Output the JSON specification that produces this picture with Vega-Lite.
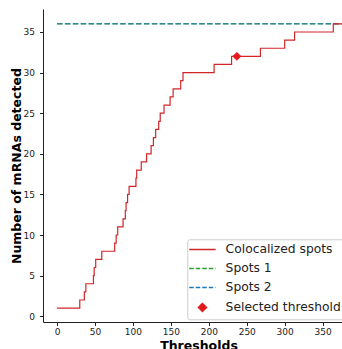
{
  "$schema": "https://vega.github.io/schema/vega-lite/v6.json",
  "width": 299,
  "height": 313,
  "autosize": {"type": "none"},
  "padding": {"left": 43, "top": 9, "right": 0, "bottom": 27},
  "config": {
    "view": {"stroke": null},
    "font": "DejaVu Sans",
    "axis": {
      "labelFont": "DejaVu Sans",
      "labelFontSize": 9,
      "labelColor": "#222222",
      "tickColor": "#222222",
      "tickSize": 3.5,
      "tickWidth": 1,
      "domainColor": "#222222",
      "domainWidth": 1,
      "grid": false,
      "titleFont": "DejaVu Sans",
      "titleFontWeight": "bold",
      "titleFontSize": 12.5,
      "titleColor": "#000000"
    }
  },
  "datasets": {
    "curve": [
      {"series": "Colocalized spots", "threshold": 0, "count": 1},
      {"series": "Colocalized spots", "threshold": 30, "count": 2},
      {"series": "Colocalized spots", "threshold": 36, "count": 3},
      {"series": "Colocalized spots", "threshold": 38, "count": 4},
      {"series": "Colocalized spots", "threshold": 48, "count": 5},
      {"series": "Colocalized spots", "threshold": 49, "count": 6},
      {"series": "Colocalized spots", "threshold": 51, "count": 7},
      {"series": "Colocalized spots", "threshold": 59, "count": 8},
      {"series": "Colocalized spots", "threshold": 76, "count": 9},
      {"series": "Colocalized spots", "threshold": 78, "count": 10},
      {"series": "Colocalized spots", "threshold": 80, "count": 11},
      {"series": "Colocalized spots", "threshold": 87, "count": 12},
      {"series": "Colocalized spots", "threshold": 90, "count": 13},
      {"series": "Colocalized spots", "threshold": 91, "count": 14},
      {"series": "Colocalized spots", "threshold": 93, "count": 15},
      {"series": "Colocalized spots", "threshold": 95, "count": 16},
      {"series": "Colocalized spots", "threshold": 104, "count": 17},
      {"series": "Colocalized spots", "threshold": 105, "count": 18},
      {"series": "Colocalized spots", "threshold": 111, "count": 19},
      {"series": "Colocalized spots", "threshold": 118, "count": 20},
      {"series": "Colocalized spots", "threshold": 124, "count": 21},
      {"series": "Colocalized spots", "threshold": 127, "count": 22},
      {"series": "Colocalized spots", "threshold": 130, "count": 23},
      {"series": "Colocalized spots", "threshold": 134, "count": 24},
      {"series": "Colocalized spots", "threshold": 136, "count": 25},
      {"series": "Colocalized spots", "threshold": 141, "count": 26},
      {"series": "Colocalized spots", "threshold": 149, "count": 27},
      {"series": "Colocalized spots", "threshold": 153, "count": 28},
      {"series": "Colocalized spots", "threshold": 163, "count": 29},
      {"series": "Colocalized spots", "threshold": 166, "count": 30},
      {"series": "Colocalized spots", "threshold": 207, "count": 31},
      {"series": "Colocalized spots", "threshold": 230, "count": 32},
      {"series": "Colocalized spots", "threshold": 268, "count": 33},
      {"series": "Colocalized spots", "threshold": 300, "count": 34},
      {"series": "Colocalized spots", "threshold": 313, "count": 35},
      {"series": "Colocalized spots", "threshold": 364, "count": 36},
      {"series": "Colocalized spots", "threshold": 376, "count": 36}
    ],
    "spots": [
      {"series": "Spots 1", "threshold": 0, "count": 36},
      {"series": "Spots 1", "threshold": 376, "count": 36},
      {"series": "Spots 2", "threshold": 0, "count": 36},
      {"series": "Spots 2", "threshold": 376, "count": 36}
    ],
    "selected": [
      {"series": "Selected threshold", "threshold": 237, "count": 32}
    ]
  },
  "encoding": {
    "x": {
      "field": "threshold",
      "type": "quantitative",
      "scale": {"domain": [-18.45, 375.5], "nice": false, "zero": false},
      "axis": {
        "title": "Thresholds",
        "values": [0, 50, 100, 150, 200, 250, 300, 350],
        "labelPadding": 2,
        "labelFlush": false,
        "labelOverlap": false,
        "titleX": 155.5,
        "titleY": 27,
        "titleAlign": "center",
        "titleBaseline": "alphabetic"
      }
    },
    "y": {
      "field": "count",
      "type": "quantitative",
      "scale": {"domain": [-0.71, 37.83], "nice": false, "zero": false},
      "axis": {
        "title": "Number of mRNAs detected",
        "values": [0, 5, 10, 15, 20, 25, 30, 35],
        "labelPadding": 5,
        "titleX": -26.3,
        "titleY": 156.6,
        "titleAngle": -90,
        "titleAlign": "center",
        "titleBaseline": "middle"
      }
    },
    "color": {
      "field": "series",
      "type": "nominal",
      "scale": {
        "domain": ["Colocalized spots", "Spots 1", "Spots 2", "Selected threshold"],
        "range": ["#d0262a", "#2ca02c", "#1f77b4", "#e41a1c"]
      },
      "legend": {
        "title": null,
        "orient": "none",
        "legendX": 144.3,
        "legendY": 230.3,
        "labelFont": "DejaVu Sans",
        "labelFontSize": 12.3,
        "labelColor": "#222222",
        "padding": 4,
        "rowPadding": 6,
        "symbolSize": 100,
        "symbolStrokeWidth": 1.5,
        "symbolOffset": 5,
        "labelOffset": 17,
        "strokeColor": "#cccccc",
        "fillColor": "#ffffff",
        "cornerRadius": 2,
        "encode": {
          "symbols": {
            "update": {
              "shape": {"signal": "datum.value === 'Selected threshold' ? 'M0,-0.8L0.8,0L0,0.8L-0.8,0Z' : 'M-2.64,0H2.64'"},
              "strokeDash": {"signal": "(datum.value === 'Spots 1' || datum.value === 'Spots 2') ? [4.5, 2] : [1, 0]"},
              "fill": {"signal": "datum.value === 'Selected threshold' ? '#e41a1c' : 'transparent'"},
              "stroke": {"signal": "datum.value === 'Colocalized spots' ? '#d0262a' : datum.value === 'Spots 1' ? '#4daf4a' : datum.value === 'Spots 2' ? '#3a86d0' : '#e41a1c'"},
              "strokeWidth": {"value": 1.5},
              "opacity": {"value": 1}
            }
          }
        }
      }
    }
  },
  "layer": [
    {
      "data": {"name": "spots"},
      "transform": [{"filter": "datum.series === 'Spots 1'"}],
      "mark": {"type": "line", "strokeDash": [5.5, 2.4], "strokeWidth": 1.5, "opacity": 0.8, "clip": true}
    },
    {
      "data": {"name": "spots"},
      "transform": [{"filter": "datum.series === 'Spots 2'"}],
      "mark": {"type": "line", "strokeDash": [5.5, 2.4], "strokeWidth": 1.5, "opacity": 0.7, "clip": true}
    },
    {
      "data": {"name": "curve"},
      "mark": {"type": "line", "interpolate": "step-after", "strokeWidth": 1.2, "clip": true}
    },
    {
      "data": {"name": "selected"},
      "mark": {"type": "point", "shape": "diamond", "filled": true, "size": 80, "opacity": 1, "clip": true}
    },
    {
      "data": {"values": [{}]},
      "mark": {"type": "rule", "color": "#000000", "strokeWidth": 1},
      "encoding": {
        "x": {"value": 0},
        "x2": {"value": 299},
        "y": {"datum": 37.83},
        "color": {"value": "#000000"}
      }
    }
  ]
}
